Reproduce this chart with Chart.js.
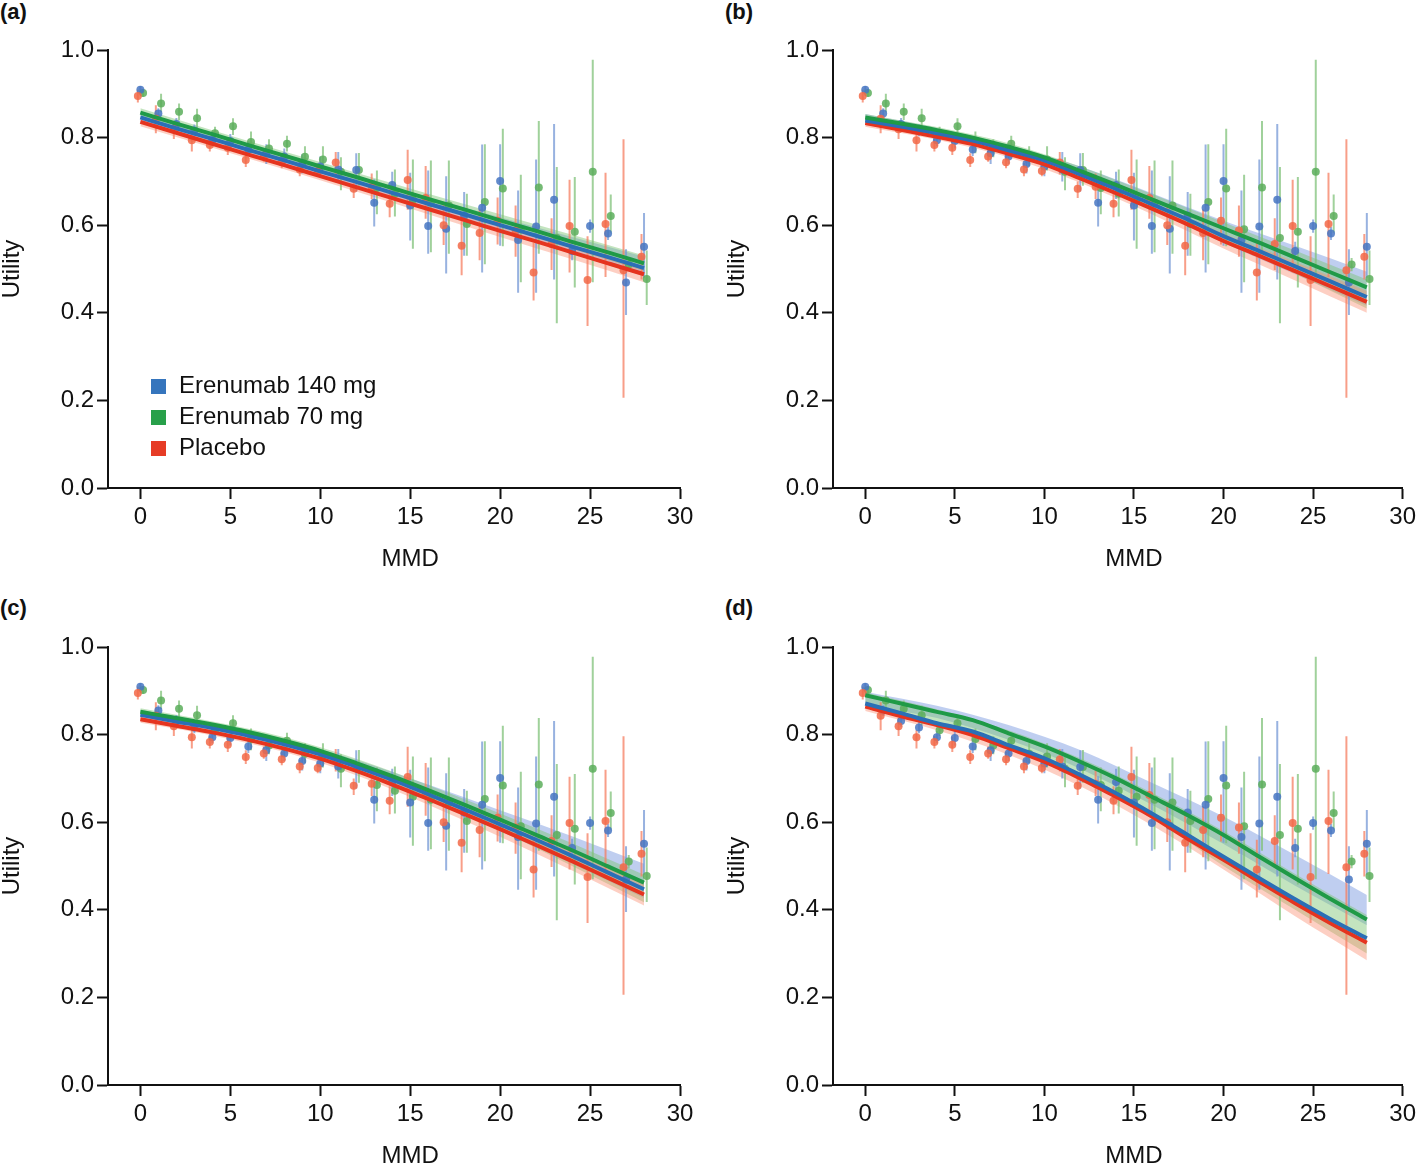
<!DOCTYPE html>
<html><head><meta charset="utf-8">
<script src="https://cdn.jsdelivr.net/npm/chart.js@4.4.1/dist/chart.umd.min.js"></script>
<style>
html,body{margin:0;padding:0;background:#fff;}
body{width:1418px;height:1165px;overflow:hidden;position:relative;font-family:'Liberation Sans',Arial,Helvetica,sans-serif;color:#111;}
canvas{position:absolute;}
.lab{position:absolute;font-weight:bold;font-size:22px;line-height:24px;}
#legend{position:absolute;left:151px;top:369px;font-size:24px;line-height:31px;}
#legend div{white-space:nowrap;}
#legend span.sw{display:inline-block;width:15px;height:15px;margin-right:13px;vertical-align:-1px;}
</style></head>
<body>
<div class="lab" style="left:0;top:0">(a)</div>
<div class="lab" style="left:725px;top:0">(b)</div>
<div class="lab" style="left:0;top:596px">(c)</div>
<div class="lab" style="left:725px;top:596px">(d)</div>
<canvas id="ca" width="700" height="548" style="left:0;top:20px"></canvas>
<canvas id="cb" width="695" height="548" style="left:725px;top:20px"></canvas>
<canvas id="cc" width="700" height="548" style="left:0;top:617px"></canvas>
<canvas id="cd" width="695" height="548" style="left:725px;top:617px"></canvas>
<div id="legend"></div>
<script>
// ---------- DATA ----------
const MMD = [0,1,2,3,4,5,6,7,8,9,10,11,12,13,14,15,16,17,18,19,20,21,22,23,24,25,26,27,28];
const X_TICKS = [0,5,10,15,20,25,30];
const Y_TICKS = [0,0.2,0.4,0.6,0.8,1.0];
const SERIES_NAMES = ['Erenumab 140 mg','Erenumab 70 mg','Placebo'];

// observed mean utility and error bars
const BLUE_Y  = [0.909,0.855,0.831,0.816,0.794,0.792,0.773,0.764,0.757,0.740,0.734,0.727,0.726,0.651,0.692,0.645,0.598,0.592,0.622,0.640,0.701,0.566,0.597,0.658,0.541,0.598,0.581,0.469,0.551];
const BLUE_LO = [0.900,0.843,0.818,0.803,0.780,0.775,0.758,0.740,0.740,0.718,0.712,0.700,0.677,0.597,0.660,0.565,0.535,0.490,0.530,0.492,0.553,0.446,0.446,0.476,0.520,0.583,0.566,0.395,0.480];
const BLUE_HI = [0.918,0.867,0.845,0.830,0.808,0.808,0.790,0.785,0.775,0.762,0.757,0.767,0.764,0.705,0.722,0.720,0.725,0.712,0.676,0.784,0.785,0.679,0.750,0.831,0.562,0.613,0.596,0.545,0.628];
const GREEN_Y  = [0.902,0.878,0.859,0.844,0.810,0.826,0.790,0.775,0.786,0.756,0.750,0.722,0.726,0.685,0.672,0.658,0.651,0.645,0.603,0.653,0.684,0.591,0.686,0.571,0.585,0.722,0.621,0.510,0.477];
const GREEN_LO = [0.893,0.858,0.840,0.822,0.797,0.806,0.764,0.755,0.768,0.735,0.725,0.680,0.690,0.625,0.620,0.546,0.538,0.535,0.530,0.511,0.552,0.470,0.535,0.376,0.458,0.470,0.583,0.495,0.418];
const GREEN_HI = [0.911,0.900,0.878,0.866,0.825,0.844,0.814,0.796,0.804,0.780,0.780,0.755,0.765,0.725,0.727,0.750,0.748,0.748,0.672,0.785,0.820,0.715,0.838,0.733,0.710,0.978,0.670,0.525,0.542];
const RED_Y  = [0.895,0.843,0.819,0.794,0.783,0.777,0.749,0.757,0.744,0.727,0.724,0.743,0.683,0.688,0.649,0.703,0.662,0.600,0.553,0.582,0.610,0.588,0.492,0.557,0.598,0.475,0.603,0.497,0.528];
const RED_LO = [0.880,0.810,0.797,0.768,0.768,0.760,0.733,0.745,0.730,0.712,0.712,0.716,0.662,0.660,0.618,0.635,0.615,0.555,0.486,0.520,0.556,0.528,0.428,0.498,0.492,0.370,0.482,0.206,0.476];
const RED_HI = [0.909,0.874,0.838,0.810,0.797,0.795,0.764,0.773,0.760,0.742,0.737,0.767,0.700,0.718,0.682,0.772,0.735,0.646,0.625,0.636,0.663,0.645,0.560,0.616,0.704,0.575,0.720,0.796,0.580];

// fitted curves (sampled) and confidence bands
const FIT_X  = [0,2,4,6,8,10,12,14,16,18,20,22,24,26,28];
const BAND_X = [0,4,8,12,16,20,24,28];

const A_BLUE  = [0.846,0.821,0.797,0.772,0.748,0.723,0.699,0.674,0.649,0.625,0.600,0.576,0.551,0.527,0.502];
const A_GREEN = [0.857,0.832,0.808,0.783,0.759,0.734,0.710,0.685,0.660,0.636,0.611,0.587,0.562,0.538,0.513];
const A_RED   = [0.836,0.811,0.786,0.761,0.737,0.712,0.687,0.662,0.637,0.612,0.587,0.563,0.538,0.513,0.488];
const A_BLUE_HI  = [0.858,0.807,0.758,0.711,0.664,0.618,0.573,0.528];
const A_BLUE_LO  = [0.836,0.788,0.739,0.689,0.637,0.586,0.535,0.484];
const A_GREEN_HI = [0.867,0.817,0.768,0.720,0.672,0.625,0.578,0.531];
const A_GREEN_LO = [0.847,0.799,0.750,0.700,0.648,0.597,0.546,0.495];
const A_RED_HI   = [0.846,0.795,0.746,0.697,0.649,0.601,0.554,0.506];
const A_RED_LO   = [0.826,0.777,0.728,0.677,0.625,0.573,0.522,0.470];

const B_BLUE  = [0.839,0.825,0.810,0.793,0.771,0.748,0.716,0.683,0.648,0.613,0.575,0.541,0.506,0.471,0.436];
const B_GREEN = [0.846,0.832,0.817,0.800,0.779,0.755,0.724,0.692,0.659,0.626,0.593,0.560,0.526,0.492,0.458];
const B_RED   = [0.833,0.818,0.802,0.785,0.763,0.739,0.707,0.673,0.638,0.602,0.564,0.530,0.495,0.460,0.425];
const B_BLUE_HI  = [0.854,0.822,0.783,0.734,0.673,0.610,0.553,0.494];
const B_BLUE_LO  = [0.829,0.802,0.763,0.706,0.636,0.560,0.488,0.416];
const B_GREEN_HI = [0.854,0.824,0.787,0.734,0.671,0.607,0.542,0.476];
const B_GREEN_LO = [0.838,0.810,0.771,0.712,0.641,0.568,0.490,0.410];
const B_RED_HI   = [0.841,0.809,0.771,0.717,0.651,0.581,0.516,0.450];
const B_RED_LO   = [0.825,0.795,0.755,0.697,0.625,0.547,0.474,0.400];

const C_BLUE  = [0.845,0.830,0.815,0.798,0.778,0.755,0.727,0.697,0.664,0.630,0.595,0.560,0.523,0.485,0.447];
const C_GREEN = [0.852,0.838,0.823,0.806,0.786,0.763,0.735,0.705,0.673,0.640,0.606,0.571,0.536,0.499,0.462];
const C_RED   = [0.835,0.820,0.805,0.788,0.768,0.745,0.717,0.686,0.653,0.619,0.584,0.548,0.511,0.473,0.435];
const C_BLUE_HI  = [0.857,0.825,0.788,0.742,0.686,0.627,0.568,0.505];
const C_BLUE_LO  = [0.835,0.807,0.770,0.717,0.652,0.580,0.505,0.427];
const C_GREEN_HI = [0.860,0.830,0.794,0.745,0.685,0.620,0.552,0.480];
const C_GREEN_LO = [0.844,0.816,0.778,0.723,0.655,0.581,0.500,0.417];
const C_RED_HI   = [0.843,0.812,0.776,0.727,0.666,0.601,0.532,0.460];
const C_RED_LO   = [0.827,0.798,0.760,0.707,0.640,0.567,0.490,0.410];

const D_BLUE  = [0.871,0.849,0.826,0.807,0.776,0.746,0.708,0.666,0.620,0.571,0.521,0.472,0.424,0.378,0.335];
const D_GREEN = [0.890,0.871,0.852,0.833,0.803,0.773,0.738,0.700,0.658,0.616,0.571,0.521,0.472,0.424,0.378];
const D_RED   = [0.864,0.842,0.822,0.799,0.769,0.738,0.700,0.658,0.613,0.562,0.514,0.464,0.415,0.369,0.325];
const D_BLUE_HI  = [0.898,0.866,0.822,0.765,0.690,0.613,0.525,0.434];
const D_BLUE_LO  = [0.866,0.838,0.788,0.722,0.640,0.550,0.455,0.365];
const D_GREEN_HI = [0.896,0.858,0.810,0.746,0.667,0.580,0.482,0.388];
const D_GREEN_LO = [0.870,0.828,0.774,0.700,0.612,0.500,0.400,0.300];
const D_RED_HI   = [0.870,0.828,0.776,0.708,0.622,0.525,0.427,0.337];
const D_RED_LO   = [0.854,0.810,0.754,0.682,0.593,0.492,0.385,0.285];

// ---------- STYLE ----------
const FONT = "'Liberation Sans', Arial, Helvetica, sans-serif";
const STYLE = {
  blue:  {dodge:0,     line:'#2b6fb6', pt:'rgba(70,118,194,0.85)', err:'rgba(118,152,214,0.75)', band:'rgba(112,146,222,0.45)', sw:'#3575bd', bandOrder:12},
  green: {dodge:0.15,  line:'#1f9a47', pt:'rgba(92,174,92,0.85)',  err:'rgba(128,194,122,0.75)', band:'rgba(122,196,112,0.45)', sw:'#28a04a', bandOrder:11},
  red:   {dodge:-0.14, line:'#e5341f', pt:'rgba(242,104,72,0.85)', err:'rgba(245,126,96,0.75)',  band:'rgba(250,140,112,0.42)', sw:'#e63c26', bandOrder:10}
};
const OBS = {
  blue:  {y:BLUE_Y, lo:BLUE_LO, hi:BLUE_HI},
  green: {y:GREEN_Y, lo:GREEN_LO, hi:GREEN_HI},
  red:   {y:RED_Y, lo:RED_LO, hi:RED_HI}
};
const PANELS = [
  {id:'ca', padR:20, fit:{blue:A_BLUE,green:A_GREEN,red:A_RED}, band:{blue:[A_BLUE_HI,A_BLUE_LO],green:[A_GREEN_HI,A_GREEN_LO],red:[A_RED_HI,A_RED_LO]}},
  {id:'cb', padR:15, fit:{blue:B_BLUE,green:B_GREEN,red:B_RED}, band:{blue:[B_BLUE_HI,B_BLUE_LO],green:[B_GREEN_HI,B_GREEN_LO],red:[B_RED_HI,B_RED_LO]}},
  {id:'cc', padR:20, fit:{blue:C_BLUE,green:C_GREEN,red:C_RED}, band:{blue:[C_BLUE_HI,C_BLUE_LO],green:[C_GREEN_HI,C_GREEN_LO],red:[C_RED_HI,C_RED_LO]}},
  {id:'cd', padR:15, fit:{blue:D_BLUE,green:D_GREEN,red:D_RED}, band:{blue:[D_BLUE_HI,D_BLUE_LO],green:[D_GREEN_HI,D_GREEN_LO],red:[D_RED_HI,D_RED_LO]}}
];

const mmdTitle = {
  id:'mmdTitle',
  afterDraw(chart){
    const ctx = chart.ctx, xs = chart.scales.x;
    ctx.save();
    ctx.font = '24px ' + FONT;
    ctx.fillStyle = '#111';
    ctx.textAlign = 'center';
    ctx.textBaseline = 'middle';
    ctx.fillText('MMD', xs.getPixelForValue(15), chart.chartArea.bottom + 71);
    ctx.restore();
  }
};

function build(p){
  const ds = [];
  // bands
  ['blue','green','red'].forEach(k=>{
    const [hi, lo] = p.band[k];
    ds.push({data: BAND_X.map((x,i)=>({x, y:hi[i]})), fill:'+1', backgroundColor:STYLE[k].band, borderWidth:0, pointRadius:0, cubicInterpolationMode:'monotone', order:STYLE[k].bandOrder});
    ds.push({data: BAND_X.map((x,i)=>({x, y:lo[i]})), fill:false, borderWidth:0, pointRadius:0, cubicInterpolationMode:'monotone', order:STYLE[k].bandOrder});
  });
  // error bars and points
  ['red','blue','green'].forEach(k=>{
    const o = OBS[k], off = STYLE[k].dodge, d = [];
    MMD.forEach((m,i)=>{ d.push({x:m+off, y:o.lo[i]}, {x:m+off, y:o.hi[i]}, {x:m+off, y:null}); });
    ds.push({data:d, borderColor:STYLE[k].err, borderWidth:2, pointRadius:0, spanGaps:false, fill:false, order:8});
    ds.push({data: MMD.map((m,i)=>({x:m+off, y:o.y[i]})), showLine:false, pointRadius:4, pointBorderWidth:0, pointBackgroundColor:STYLE[k].pt, fill:false, order:6});
  });
  // fitted lines
  [['red',3],['blue',2],['green',1]].forEach(([k,ord])=>{
    ds.push({label:SERIES_NAMES[{blue:0,green:1,red:2}[k]], data: FIT_X.map((x,i)=>({x, y:p.fit[k][i]})), borderColor:STYLE[k].line, borderWidth:4, pointRadius:0, cubicInterpolationMode:'monotone', fill:false, order:ord});
  });
  new Chart(document.getElementById(p.id), {
    type:'line',
    data:{datasets:ds},
    options:{
      responsive:false, animation:false, devicePixelRatio:1,
      layout:{padding:{top:30, right:p.padR, left:0, bottom:0}},
      plugins:{legend:{display:false}, tooltip:{enabled:false}},
      scales:{
        x:{type:'linear', min:-1.8, max:30,
          afterBuildTicks:s=>{ s.ticks = X_TICKS.map(v=>({value:v})); },
          afterFit:s=>{ s.height = 80; },
          grid:{drawOnChartArea:false, drawTicks:true, tickLength:11, tickWidth:2, tickColor:'#111'},
          border:{display:true, color:'#111', width:2},
          ticks:{font:{size:24, family:FONT}, color:'#111', padding:4, maxRotation:0, autoSkip:false}
        },
        y:{type:'linear', min:0, max:1,
          afterBuildTicks:s=>{ s.ticks = Y_TICKS.map(v=>({value:v})); },
          afterFit:s=>{ s.width = 108; },
          grid:{drawOnChartArea:false, drawTicks:true, tickLength:11, tickWidth:2, tickColor:'#111'},
          border:{display:true, color:'#111', width:2},
          ticks:{font:{size:24, family:FONT}, color:'#111', padding:3, callback:v=>Number(v).toFixed(1)},
          title:{display:true, text:'Utility', color:'#111', font:{size:24, family:FONT, lineHeight:1}, padding:{top:0,bottom:0}}
        }
      }
    },
    plugins:[mmdTitle]
  });
}
PANELS.forEach(build);

// legend (panel a)
const lg = document.getElementById('legend');
[['blue',0],['green',1],['red',2]].forEach(([k,i])=>{
  const row = document.createElement('div');
  const sw = document.createElement('span'); sw.className='sw'; sw.style.background = STYLE[k].sw;
  row.appendChild(sw); row.appendChild(document.createTextNode(SERIES_NAMES[i]));
  lg.appendChild(row);
});
</script>
</body></html>
